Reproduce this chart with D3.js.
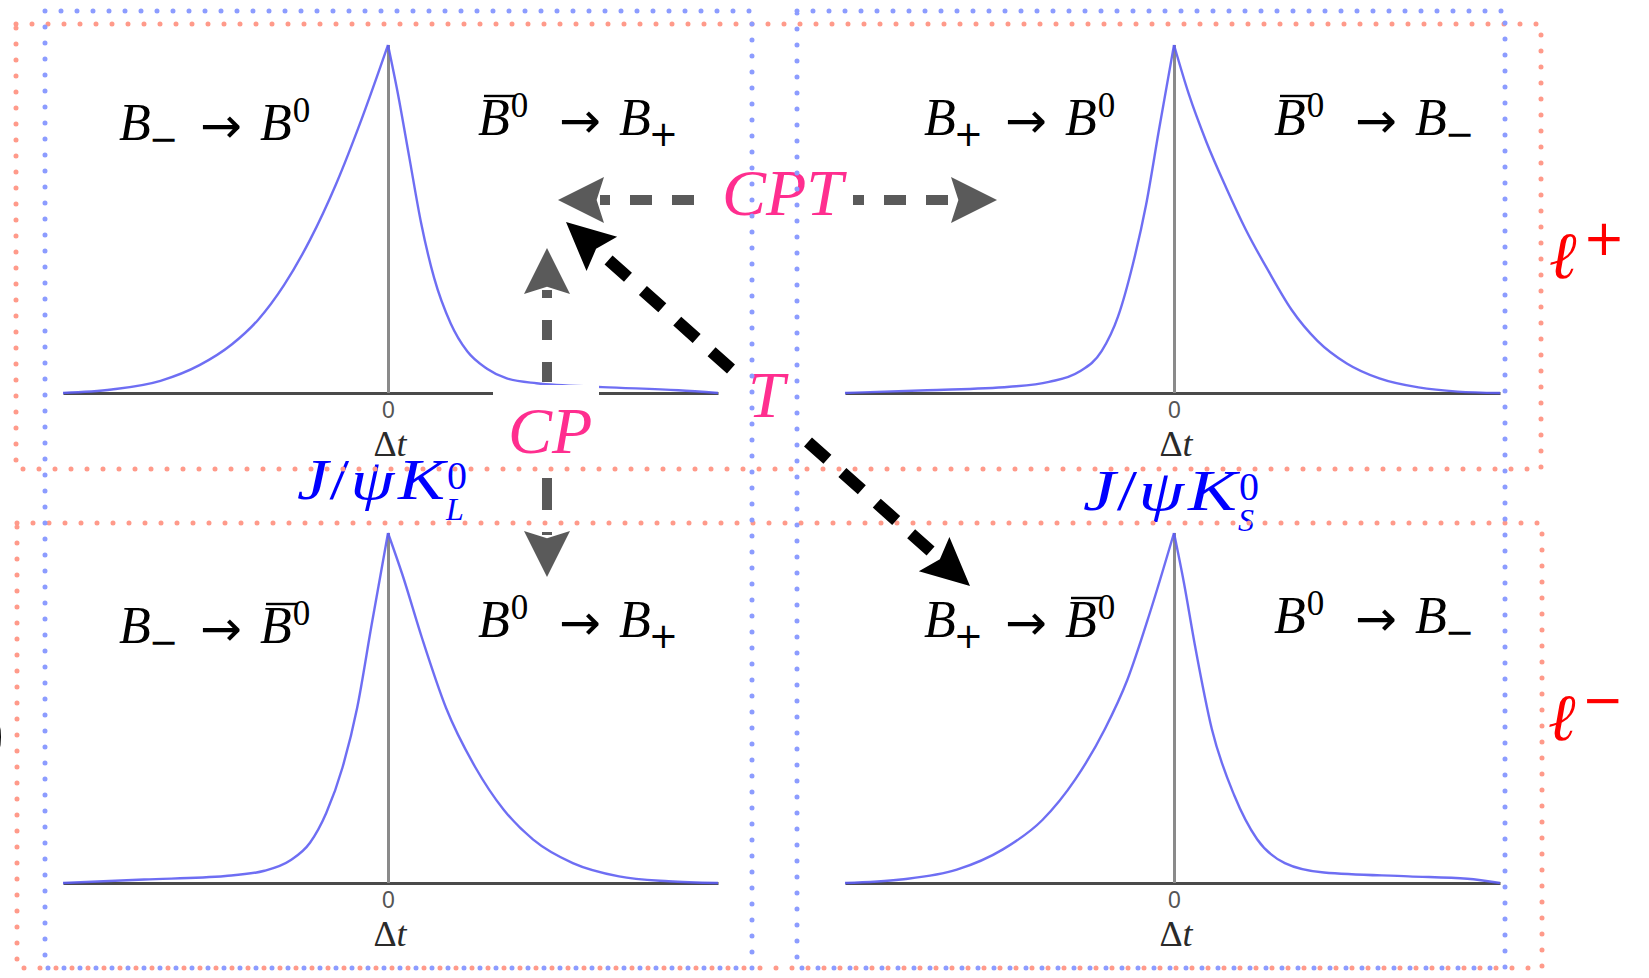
<!DOCTYPE html>
<html><head><meta charset="utf-8">
<script src="https://cdn.jsdelivr.net/npm/d3@7"></script>
<style>body{margin:0;background:#fff}svg{display:block}</style>
</head><body>
<svg id="c" width="1649" height="978"></svg>
<script>
// ---------------- DATA ----------------
// Δt (scaled, -1..1) and decay rate (normalized to peak = 1) for each panel
const rateTL = [[-1,0],[-0.85,0.01],[-0.7,0.035],[-0.58,0.08],[-0.48,0.14],[-0.4,0.21],[-0.32,0.31],[-0.24,0.44],[-0.16,0.6],[-0.08,0.79],[0,1],
                [0.03,0.86],[0.064,0.68],[0.1,0.49],[0.14,0.33],[0.19,0.2],[0.24,0.12],[0.3,0.07],[0.36,0.042],[0.45,0.028],[0.65,0.017],[0.88,0.008],[1,0]];
const rateTR = [[-1,0],[-0.75,0.008],[-0.5,0.018],[-0.38,0.032],[-0.29,0.06],[-0.22,0.12],[-0.17,0.22],[-0.125,0.37],[-0.085,0.54],[-0.045,0.76],[0,1],
                [0.045,0.86],[0.1,0.72],[0.16,0.59],[0.22,0.47],[0.29,0.35],[0.36,0.24],[0.44,0.15],[0.53,0.085],[0.63,0.042],[0.75,0.016],[0.87,0.004],[1,0]];
const rateBL = [[-1,0],[-0.75,0.01],[-0.5,0.02],[-0.38,0.035],[-0.3,0.065],[-0.24,0.115],[-0.19,0.2],[-0.14,0.33],[-0.095,0.5],[-0.05,0.74],[0,1],
                [0.044,0.88],[0.103,0.70],[0.176,0.50],[0.265,0.33],[0.35,0.21],[0.44,0.124],[0.56,0.057],[0.70,0.019],[0.85,0.005],[1,0]];
const rateBR = [[-1,0],[-0.83,0.01],[-0.66,0.038],[-0.52,0.096],[-0.4,0.18],[-0.3,0.296],[-0.21,0.44],[-0.142,0.58],[-0.074,0.77],[0,1],
                [0.03,0.86],[0.064,0.68],[0.116,0.44],[0.185,0.25],[0.255,0.125],[0.34,0.057],[0.46,0.03],[0.72,0.019],[0.9,0.012],[1,0]];
const panelRates = [rateTL, rateTR, rateBL, rateBR];
const tickValues = [0];
const axisTitle = ["Δ", "t"];

// transition labels: [panel, from-term, to-term]; term = {bar, sup, sub}
const transitions = [
  [0, {sub:"−"}, {sup:"0"}],
  [0, {bar:true, sup:"0"}, {sub:"+"}],
  [1, {sub:"+"}, {sup:"0"}],
  [1, {bar:true, sup:"0"}, {sub:"−"}],
  [2, {sub:"−"}, {bar:true, sup:"0"}],
  [2, {sup:"0"}, {sub:"+"}],
  [3, {sub:"+"}, {bar:true, sup:"0"}],
  [3, {sup:"0"}, {sub:"−"}]
];
const symmetryLabels = ["CPT", "CP", "T"];
const finalStates = [["J", "/", "ψ", "K", "0", "L"], ["J", "/", "ψ", "K", "0", "S"]];
const leptonTags = [["ℓ", "+"], ["ℓ", "−"]];

// ---------------- LAYOUT ----------------
const svg = d3.select("#c");
const colX = [[63, 388, 718], [845, 1174, 1500]];
const rowY = [[393, 45], [883, 533]];
const blueBoxes = [[45, 11, 752, 968], [797, 11, 1505, 968]];
const redBoxes = [[16, 24, 1541, 469], [17, 523, 1542, 968]];
const labelPos = [[119,140],[478,135],[924,135],[1274,135],[119,643],[478,637],[924,637],[1274,633]];
const serif = "'Liberation Serif', 'DejaVu Serif', serif";
const sans = "'DejaVu Sans', sans-serif";

const gPlots = svg.append("g");
const gText = svg.append("g");
const gBoxes = svg.append("g");
const gArrows = svg.append("g");

// ---------------- PANELS ----------------
panelRates.forEach((data, i) => {
  const col = i % 2, row = Math.floor(i / 2);
  const x = d3.scaleLinear().domain([-1, 0, 1]).range(colX[col]);
  const y = d3.scaleLinear().domain([0, 1]).range(rowY[row]);
  const g = gPlots.append("g");
  const ax = g.append("g")
    .attr("transform", `translate(0,${y(0)})`)
    .call(d3.axisBottom(x).tickValues(tickValues).tickFormat(d3.format("d"))
      .tickSizeInner(-(y(0) - y(1))).tickSizeOuter(0).tickPadding(9));
  ax.select(".domain").attr("stroke", "#4a4a4a").attr("stroke-width", 3);
  ax.selectAll(".tick line").attr("stroke", "#8a8a8a").attr("stroke-width", 3);
  ax.selectAll(".tick text").attr("font-size", 23).attr("fill", "#555")
    .attr("font-family", "'Liberation Sans', sans-serif");
  const t = g.append("text").attr("x", x(0) + 2).attr("y", y(0) + 63)
    .attr("text-anchor", "middle").attr("font-family", serif).attr("font-size", 36).attr("fill", "#2a2a2a");
  t.append("tspan").text(axisTitle[0]);
  t.append("tspan").attr("font-style", "italic").text(axisTitle[1]);

  const line = d3.line().x(d => x(d[0])).y(d => y(d[1])).curve(d3.curveMonotoneX);
  const left = data.filter(d => d[0] <= 0), right = data.filter(d => d[0] >= 0);
  [left, right].forEach(part => {
    g.append("path").attr("d", line(part)).attr("fill", "none")
      .attr("stroke", "#5e5ef2").attr("stroke-width", 2.4).attr("stroke-opacity", 0.9);
  });
});

// white patch behind CP label
gPlots.append("rect").attr("x", 493).attr("y", 385).attr("width", 106).attr("height", 20).attr("fill", "#fff");

// ---------------- TRANSITION LABELS ----------------
function term(x, yb, spec) {
  const t = gText.append("text").attr("x", x).attr("y", yb)
    .attr("font-family", serif).attr("font-size", 52).attr("fill", "#000");
  const b = t.append("tspan").attr("font-style", "italic").text("B");
  if (spec.sup) t.append("tspan").attr("y", yb - 18).attr("dx", 1).attr("font-size", 35).text(spec.sup);
  if (spec.sub) t.append("tspan").attr("y", yb + 11).attr("dx", -2).attr("font-family", sans).attr("font-size", 35).text(spec.sub);
  if (spec.bar) {
    const e = b.node().getExtentOfChar(0);
    gText.append("line").attr("x1", e.x + 6).attr("x2", e.x + e.width + 6)
      .attr("y1", yb - 39).attr("y2", yb - 39).attr("stroke", "#000").attr("stroke-width", 2.4);
  }
}
transitions.forEach((tr, k) => {
  const [x, yb] = labelPos[k];
  term(x, yb, tr[1]);
  gText.append("text").attr("x", x + 102).attr("y", yb + 3).attr("text-anchor", "middle")
    .attr("font-family", sans).attr("font-size", 50).text("→");
  term(x + 141, yb, tr[2]);
});

// ---------------- SYMMETRY LABELS ----------------
const pink = "#ff2e8f";
const symPos = [[722, 215], [508, 453], [748, 417]];
symmetryLabels.forEach((s, k) => {
  gText.append("text").attr("x", symPos[k][0]).attr("y", symPos[k][1])
    .attr("font-family", serif).attr("font-style", "italic").attr("font-size", 66)
    .attr("fill", pink).text(s);
});

// ---------------- FINAL STATES ----------------
const fsPos = [[297, 499, 148], [1083, 510, 154]];
finalStates.forEach((f, k) => {
  const [x, yb, w] = fsPos[k];
  const t = gText.append("text").attr("x", x).attr("y", yb).attr("font-family", serif)
    .attr("font-size", 56).attr("fill", "#0000ff")
    .attr("textLength", w).attr("lengthAdjust", "spacingAndGlyphs");
  t.append("tspan").attr("font-style", "italic").text(f[0]);
  t.append("tspan").attr("dx", 1).text(f[1]);
  t.append("tspan").attr("font-style", "italic").attr("dx", 1).text(f[2]);
  t.append("tspan").attr("font-style", "italic").attr("dx", 3).text(f[3]);
  const xe = x + w;
  gText.append("text").attr("x", xe + 2).attr("y", yb - 10).attr("font-family", serif)
    .attr("font-size", 40).attr("fill", "#0000ff").text(f[4]);
  gText.append("text").attr("x", xe + 1).attr("y", yb + 21).attr("font-family", serif)
    .attr("font-style", "italic").attr("font-size", 32).attr("fill", "#0000ff").text(f[5]);
});

// ---------------- LEPTON TAGS ----------------
const lepPos = [[1549, 278], [1548, 740]];
leptonTags.forEach((l, k) => {
  const [x, yb] = lepPos[k];
  gText.append("text").attr("x", x).attr("y", yb).attr("font-family", serif)
    .attr("font-style", "italic").attr("font-size", 66).attr("fill", "#ff0000").text(l[0]);
  gText.append("text").attr("x", x + 34).attr("y", yb - 23).attr("font-family", sans)
    .attr("font-size", 50).attr("fill", "#ff0000").text(l[1]);
});

// clipped parenthesis at the left edge
gText.append("text").attr("x", 4).attr("y", 754).attr("text-anchor", "end")
  .attr("font-family", serif).attr("font-size", 70).attr("fill", "#000").text(")");

// ---------------- DOTTED BOXES ----------------
function dotted(b, color) {
  gBoxes.append("rect").attr("x", b[0]).attr("y", b[1]).attr("width", b[2] - b[0]).attr("height", b[3] - b[1])
    .attr("fill", "none").attr("stroke", color).attr("stroke-width", 5)
    .attr("stroke-linecap", "round").attr("stroke-dasharray", "0 16");
}
redBoxes.forEach(b => dotted(b, "#ff9a8a"));
blueBoxes.forEach(b => dotted(b, "#8c9cff"));

// ---------------- ARROWS ----------------
function arrow(x1, y1, x2, y2, o) {
  const L = Math.hypot(x2 - x1, y2 - y1), ux = (x2 - x1) / L, uy = (y2 - y1) / L;
  const nx = -uy, ny = ux;
  const bx = x2 - o.hl * ux, by = y2 - o.hl * uy;
  gArrows.append("line").attr("x1", x1).attr("y1", y1).attr("x2", bx + 4 * ux).attr("y2", by + 4 * uy)
    .attr("stroke", o.color).attr("stroke-width", o.w).attr("stroke-dasharray", o.dash)
    .attr("stroke-dashoffset", o.off || 0);
  const nxp = x2 - (o.hl * 0.84) * ux, nyp = y2 - (o.hl * 0.84) * uy;
  gArrows.append("path").attr("d",
    `M${x2},${y2}L${bx + o.hw * nx},${by + o.hw * ny}L${nxp},${nyp}L${bx - o.hw * nx},${by - o.hw * ny}Z`)
    .attr("fill", o.color);
}
const gray = { color: "#5a5a5a", w: 10, dash: "22 20", hl: 46, hw: 23 };
const black = { color: "#000", w: 12, dash: "26 20", hl: 48, hw: 23 };
arrow(694, 200, 558, 200, gray);
arrow(853, 200, 997, 200, Object.assign({}, gray, { off: 11 }));
arrow(547, 382, 547, 248, Object.assign({}, gray, { dash: "20 22" }));
arrow(547, 478, 547, 577, Object.assign({}, gray, { dash: "32 22" }));
arrow(731, 369, 566, 222, black);
arrow(808, 442, 970, 586, black);
</script>
</body></html>
